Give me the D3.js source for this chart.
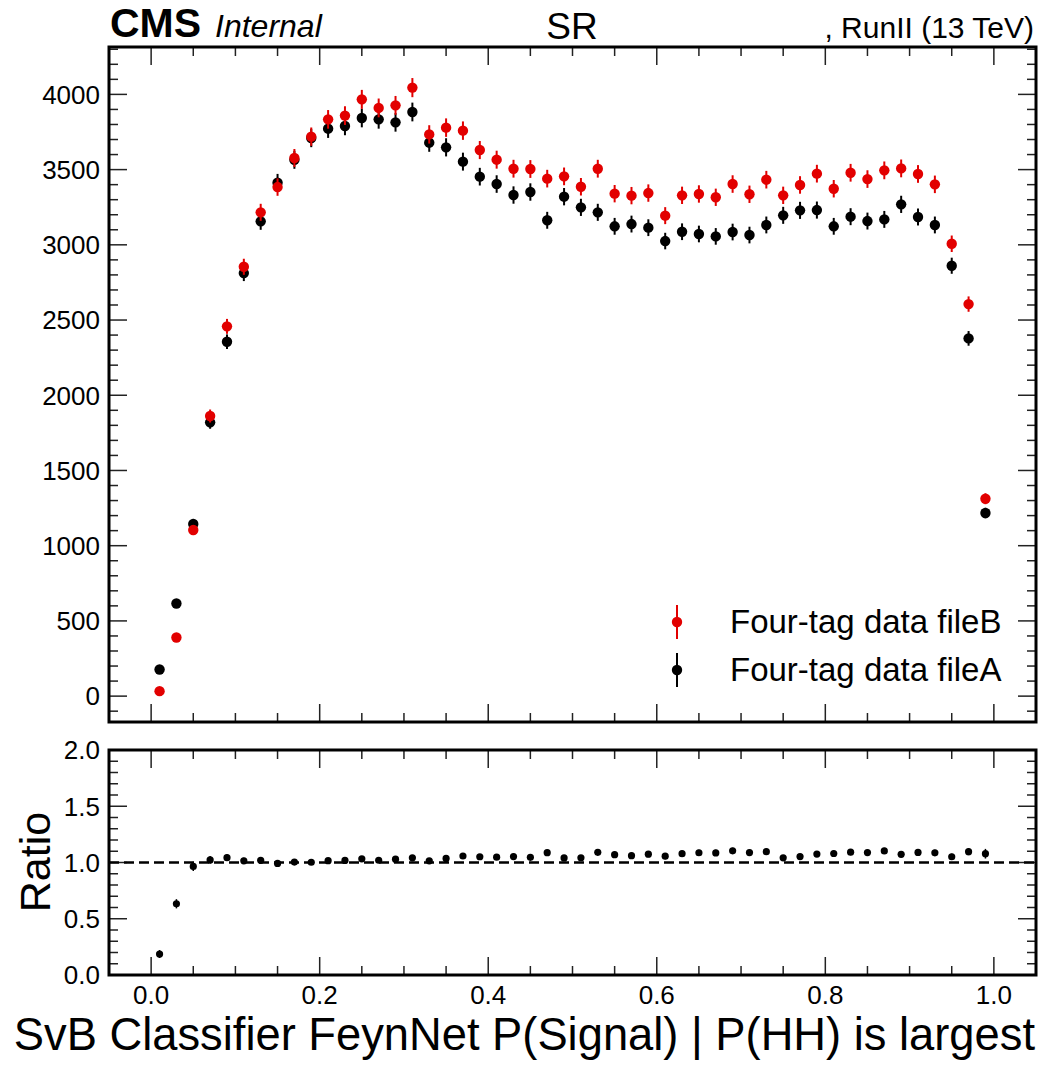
<!DOCTYPE html>
<html>
<head>
<meta charset="utf-8">
<script src="https://cdn.jsdelivr.net/npm/d3@7"></script>
<style>
  html, body { margin: 0; padding: 0; background: #fff; }
  svg { display: block; font-family: "Liberation Sans", Arial, Helvetica, sans-serif; }
</style>
</head>
<body>
<svg id="chart" width="1063" height="1074"></svg>
<script>
// ---------------- DATA ----------------
const binCenters = [0.01,0.03,0.05,0.07,0.09,0.11,0.13,0.15,0.17,0.19,
                    0.21,0.23,0.25,0.27,0.29,0.31,0.33,0.35,0.37,0.39,
                    0.41,0.43,0.45,0.47,0.49,0.51,0.53,0.55,0.57,0.59,
                    0.61,0.63,0.65,0.67,0.69,0.71,0.73,0.75,0.77,0.79,
                    0.81,0.83,0.85,0.87,0.89,0.91,0.93,0.95,0.97,0.99];
const fileB = [33,390,1104,1862,2458,2854,3216,3384,3577,3719,
               3834,3859,3967,3910,3927,4045,3734,3779,3759,3630,
               3566,3506,3504,3440,3455,3386,3506,3340,3327,3344,
               3194,3329,3338,3316,3404,3336,3433,3329,3398,3473,
               3373,3479,3437,3495,3508,3471,3402,3007,2606,1312];
const fileA = [177,616,1144,1820,2356,2812,3156,3413,3565,3710,
               3772,3790,3843,3834,3814,3883,3679,3648,3553,3453,
               3404,3331,3351,3163,3320,3249,3216,3123,3138,3114,
               3025,3087,3072,3056,3085,3065,3132,3196,3229,3231,
               3123,3187,3158,3169,3269,3185,3132,2861,2378,1217];
const seriesNames = ["Four-tag data fileB", "Four-tag data fileA"];
const xTickLabels = [0.0, 0.2, 0.4, 0.6, 0.8, 1.0];
const yMainTicks = [0,500,1000,1500,2000,2500,3000,3500,4000];
const yRatioTicks = [0.0,0.5,1.0,1.5,2.0];

// ---------------- LAYOUT ----------------
const svg = d3.select("#chart");
const L = 109, R = 1036;
const mainTop = 47, mainBot = 722;
const ratTop = 750, ratBot = 975;
const RED = "#e20000", BLACK = "#000000";

const x = d3.scaleLinear().domain([-0.05, 1.05]).range([L, R]);
const yMain = d3.scaleLinear().domain([-172, 4315]).range([mainBot, mainTop]);
const yRat = d3.scaleLinear().domain([0, 2]).range([ratBot, ratTop]);

const tickMajor = 18, tickMinor = 9;
const tickColor = "#222";

function drawXTicks(g, yTop, yBot) {
  const majors = d3.range(0, 1.0001, 0.2);
  const minors = d3.range(-0.05, 1.0501, 0.05).filter(v => v > -0.049 && v < 1.049 && Math.abs(v*5 - Math.round(v*5)) > 1e-6);
  const all = majors.map(v => ({v, len: tickMajor})).concat(minors.map(v => ({v, len: tickMinor})));
  g.selectAll(null).data(all).enter().append("line")
    .attr("x1", d => x(d.v)).attr("x2", d => x(d.v))
    .attr("y1", yBot).attr("y2", d => yBot - d.len)
    .attr("stroke", tickColor).attr("stroke-width", 1.5);
  g.selectAll(null).data(all).enter().append("line")
    .attr("x1", d => x(d.v)).attr("x2", d => x(d.v))
    .attr("y1", yTop).attr("y2", d => yTop + d.len)
    .attr("stroke", tickColor).attr("stroke-width", 1.5);
}
function drawYTicks(g, scale, majors, minors) {
  const all = majors.map(v => ({v, len: tickMajor})).concat(minors.map(v => ({v, len: tickMinor})));
  g.selectAll(null).data(all).enter().append("line")
    .attr("x1", L).attr("x2", d => L + d.len)
    .attr("y1", d => scale(d.v)).attr("y2", d => scale(d.v))
    .attr("stroke", tickColor).attr("stroke-width", 1.5);
  g.selectAll(null).data(all).enter().append("line")
    .attr("x1", R).attr("x2", d => R - d.len)
    .attr("y1", d => scale(d.v)).attr("y2", d => scale(d.v))
    .attr("stroke", tickColor).attr("stroke-width", 1.5);
}

// ---------------- MAIN PANEL ----------------
const gMain = svg.append("g");
const mainMinors = d3.range(-100, 4301, 100).filter(v => v % 500 !== 0);
drawXTicks(gMain, mainTop, mainBot);
drawYTicks(gMain, yMain, yMainTicks, mainMinors);

gMain.selectAll(null).data(yMainTicks).enter().append("text")
  .attr("x", 100).attr("y", d => yMain(d)).attr("dy", "0.36em")
  .attr("text-anchor", "end").attr("font-size", 26).attr("fill", "#000")
  .text(d => d);

function drawSeries(g, values, color) {
  const pts = binCenters.map((c, i) => ({c, v: values[i], e: Math.sqrt(values[i])}));
  g.selectAll(null).data(pts).enter().append("line")
    .attr("x1", d => x(d.c)).attr("x2", d => x(d.c))
    .attr("y1", d => yMain(d.v - d.e)).attr("y2", d => yMain(d.v + d.e))
    .attr("stroke", color).attr("stroke-width", 2);
  g.selectAll(null).data(pts).enter().append("circle")
    .attr("cx", d => x(d.c)).attr("cy", d => yMain(d.v)).attr("r", 5.2)
    .attr("fill", color);
}
drawSeries(gMain, fileA, BLACK);
drawSeries(gMain, fileB, RED);

gMain.append("rect").attr("x", L).attr("y", mainTop).attr("width", R - L).attr("height", mainBot - mainTop)
  .attr("fill", "none").attr("stroke", "#000").attr("stroke-width", 3);

// Legend
const legend = [
  {name: seriesNames[0], color: RED, y: 622},
  {name: seriesNames[1], color: BLACK, y: 670}
];
const lg = svg.append("g");
lg.selectAll(null).data(legend).enter().append("line")
  .attr("x1", 677).attr("x2", 677).attr("y1", d => d.y - 17).attr("y2", d => d.y + 17)
  .attr("stroke", d => d.color).attr("stroke-width", 2);
lg.selectAll(null).data(legend).enter().append("circle")
  .attr("cx", 677).attr("cy", d => d.y).attr("r", 5.2).attr("fill", d => d.color);
lg.selectAll(null).data(legend).enter().append("text")
  .attr("x", 730).attr("y", d => d.y + 11).attr("font-size", 33).attr("fill", "#000")
  .text(d => d.name);

// Header texts
svg.append("text").attr("x", 110).attr("y", 37).attr("font-size", 41).attr("font-weight", "bold")
  .text("CMS");
svg.append("text").attr("x", 215).attr("y", 37).attr("font-size", 32).attr("font-style", "italic").text("Internal");
svg.append("text").attr("x", 572).attr("y", 39).attr("font-size", 37).attr("text-anchor", "middle").text("SR");
svg.append("text").attr("x", 1034).attr("y", 38).attr("font-size", 30).attr("text-anchor", "end").text(", RunII (13 TeV)");

// ---------------- RATIO PANEL ----------------
const gRat = svg.append("g");
const ratMinors = d3.range(0.1, 2.0, 0.1).filter(v => Math.abs(v*2 - Math.round(v*2)) > 1e-6);
drawXTicks(gRat, ratTop, ratBot);
drawYTicks(gRat, yRat, yRatioTicks, ratMinors);

gRat.selectAll(null).data(yRatioTicks).enter().append("text")
  .attr("x", 100).attr("y", d => yRat(d)).attr("dy", "0.36em")
  .attr("text-anchor", "end").attr("font-size", 26).attr("fill", "#000")
  .text(d => d.toFixed(1));

gRat.append("line").attr("x1", L).attr("x2", R).attr("y1", yRat(1)).attr("y2", yRat(1))
  .attr("stroke", "#000").attr("stroke-width", 2.6).attr("stroke-dasharray", "10,5");

const ratioPts = binCenters.map((c, i) => {
  const r = fileB[i] / fileA[i];
  const e = r * Math.sqrt(1 / fileB[i] + 1 / fileA[i]);
  return {c, r, e};
});
gRat.selectAll(null).data(ratioPts).enter().append("line")
  .attr("x1", d => x(d.c)).attr("x2", d => x(d.c))
  .attr("y1", d => yRat(d.r - d.e)).attr("y2", d => yRat(d.r + d.e))
  .attr("stroke", "#000").attr("stroke-width", 1.5);
gRat.selectAll(null).data(ratioPts).enter().append("circle")
  .attr("cx", d => x(d.c)).attr("cy", d => yRat(d.r)).attr("r", 3.6).attr("fill", "#000");

gRat.append("rect").attr("x", L).attr("y", ratTop).attr("width", R - L).attr("height", ratBot - ratTop)
  .attr("fill", "none").attr("stroke", "#000").attr("stroke-width", 3);

// X tick labels (bottom)
gRat.selectAll(null).data(xTickLabels).enter().append("text")
  .attr("x", d => x(d)).attr("y", 1004).attr("text-anchor", "middle")
  .attr("font-size", 26).text(d => d.toFixed(1));

// Axis titles
svg.append("text").attr("x", 1035).attr("y", 1050).attr("text-anchor", "end")
  .attr("font-size", 45.3).text("SvB Classifier FeynNet P(Signal) | P(HH) is largest");
svg.append("text").attr("transform", "translate(50,862) rotate(-90)").attr("text-anchor", "middle")
  .attr("font-size", 43).text("Ratio");
</script>
</body>
</html>
